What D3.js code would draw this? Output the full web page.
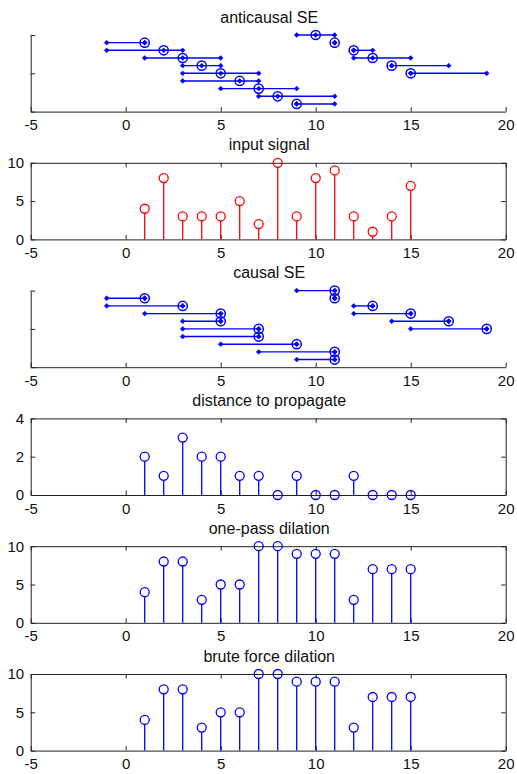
<!DOCTYPE html>
<html>
<head>
<meta charset="utf-8">
<script src="https://cdn.jsdelivr.net/npm/d3@7"></script>
<style>
  html, body { margin: 0; padding: 0; background: #fff; }
  svg { display: block; }
  text { font-family: "Liberation Sans", Arial, sans-serif; fill: #111; }
</style>
</head>
<body>
<svg id="chart" width="517" height="774"></svg>
<script>
// ---- data ----
const titles = ["anticausal SE", "input signal", "causal SE", "distance to propagate", "one-pass dilation", "brute force dilation"];
const xTickValues = [-5, 0, 5, 10, 15, 20];
const signalYTicks = [0, 5, 10];
const distanceYTicks = [0, 2, 4];
const seYTicks = [-10, -5, 0];

const sampleIndex = [1, 2, 3, 4, 5, 6, 7, 8, 9, 10, 11, 12, 13, 14, 15];
const inputSignal = [4, 8, 3, 3, 3, 5, 2, 10, 3, 8, 9, 3, 1, 3, 7];
const distanceToPropagate = [2, 1, 3, 2, 2, 1, 1, 0, 1, 0, 0, 1, 0, 0, 0];
const onePassDilation = [4, 8, 8, 3, 5, 5, 10, 10, 9, 9, 9, 3, 7, 7, 7];
const bruteForceDilation = [4, 8, 8, 3, 5, 5, 10, 10, 9, 9, 9, 3, 7, 7, 7];

// structuring elements: row level, left end, right end
const seRow = [-1, -2, -3, -4, -5, -6, -7, -8, -9, 0, -1, -2, -3, -4, -5];
const seLeft = [-1, -1, 1, 3, 3, 3, 5, 7, 9, 9, 11, 12, 12, 14, 15];
const seRight = [1, 3, 5, 5, 7, 7, 9, 11, 11, 11, 11, 13, 15, 17, 19];
const anticausalOrigin = [1, 2, 3, 4, 5, 6, 7, 8, 9, 10, 11, 12, 13, 14, 15];
const causalOrigin = [1, 3, 5, 5, 7, 7, 9, 11, 11, 11, 11, 13, 15, 17, 19];

// ---- layout ----
const svg = d3.select("#chart");
const W = 517, H = 774;
svg.append("rect").attr("width", W).attr("height", H).attr("fill", "#fff");

const left = 30.7, right = 505.7;
const firstTop = 35, step = 127.8, panelH = 76.6;
const tick = 4.5;
const axisColor = "#222";
const blue = "#0000ff", red = "#ff0000";
const plainFormat = d => String(d);

const x = d3.scaleLinear().domain([-5, 20]).range([left, right]);

function styleAxis(g) {
  g.selectAll("path.domain").attr("stroke", axisColor).attr("stroke-width", 1);
  g.selectAll(".tick line").attr("stroke", axisColor).attr("stroke-width", 1);
  g.selectAll(".tick text").attr("font-size", "15px").attr("fill", "#111")
    .attr("font-family", '"Liberation Sans", Arial, sans-serif');
}

function panel(k, title, yDomain, yTicks, boxed) {
  const top = firstTop + k * step, bottom = top + panelH;
  const y = d3.scaleLinear().domain(yDomain).range([bottom, top]);
  const g = svg.append("g");

  // title
  g.append("text").attr("x", (left + right) / 2 + 1).attr("y", top - 12.5)
    .attr("text-anchor", "middle").attr("font-size", "16px").text(title);

  // bottom axis with labels
  g.append("g").attr("transform", `translate(0,${bottom})`)
    .call(d3.axisBottom(x).tickValues(xTickValues).tickSizeInner(-tick).tickSizeOuter(0).tickPadding(8).tickFormat(plainFormat))
    .call(styleAxis);

  // left axis
  const yAxis = d3.axisLeft(y).tickValues(yTicks).tickSizeInner(-tick).tickSizeOuter(0).tickPadding(6.5);
  if (!boxed) yAxis.tickFormat("");
  else yAxis.tickFormat(plainFormat);
  g.append("g").attr("transform", `translate(${left},0)`).call(yAxis).call(styleAxis);

  if (boxed) {
    g.append("g").attr("transform", `translate(0,${top})`)
      .call(d3.axisTop(x).tickValues(xTickValues).tickSizeInner(-tick).tickSizeOuter(0).tickFormat(""))
      .call(styleAxis);
    g.append("g").attr("transform", `translate(${right},0)`)
      .call(d3.axisRight(y).tickValues(yTicks).tickSizeInner(-tick).tickSizeOuter(0).tickFormat(""))
      .call(styleAxis);
  }
  return { g, y };
}

function stems(p, values, color) {
  const r = 4.5;
  const data = sampleIndex.map((n, i) => ({ n, v: values[i] }));
  const y0 = p.y(0);
  p.g.append("g").selectAll("line").data(data.filter(d => p.y(d.v) + r < y0)).join("line")
    .attr("x1", d => x(d.n)).attr("x2", d => x(d.n))
    .attr("y1", y0).attr("y2", d => p.y(d.v) + r)
    .attr("stroke", color).attr("stroke-width", 1.3);
  p.g.append("g").selectAll("circle").data(data).join("circle")
    .attr("cx", d => x(d.n)).attr("cy", d => p.y(d.v)).attr("r", r)
    .attr("fill", "none").attr("stroke", color).attr("stroke-width", 1.3);
}

function diamond(g, cx, cy, s) {
  g.append("path")
    .attr("d", `M${cx},${cy - s}L${cx + s},${cy}L${cx},${cy + s}L${cx - s},${cy}Z`)
    .attr("fill", blue).attr("stroke", blue).attr("stroke-width", 0.6);
}

function structuring(p, origins) {
  const gg = p.g.append("g");
  sampleIndex.forEach((n, i) => {
    const yy = p.y(seRow[i]);
    gg.append("line").attr("x1", x(seLeft[i])).attr("x2", x(seRight[i]))
      .attr("y1", yy).attr("y2", yy).attr("stroke", blue).attr("stroke-width", 1.4);
    diamond(gg, x(seLeft[i]), yy, 2.4);
    diamond(gg, x(seRight[i]), yy, 2.4);
    diamond(gg, x(origins[i]), yy, 2.4);
    gg.append("circle").attr("cx", x(origins[i])).attr("cy", yy).attr("r", 4.6)
      .attr("fill", "none").attr("stroke", blue).attr("stroke-width", 1.5);
  });
}

// ---- panels ----
const p1 = panel(0, titles[0], [-10, 0], seYTicks, false);
structuring(p1, anticausalOrigin);

const p2 = panel(1, titles[1], [0, 10], signalYTicks, true);
stems(p2, inputSignal, red);

const p3 = panel(2, titles[2], [-10, 0], seYTicks, false);
structuring(p3, causalOrigin);

const p4 = panel(3, titles[3], [0, 4], distanceYTicks, true);
stems(p4, distanceToPropagate, blue);

const p5 = panel(4, titles[4], [0, 10], signalYTicks, true);
stems(p5, onePassDilation, blue);

const p6 = panel(5, titles[5], [0, 10], signalYTicks, true);
stems(p6, bruteForceDilation, blue);
</script>
</body>
</html>
